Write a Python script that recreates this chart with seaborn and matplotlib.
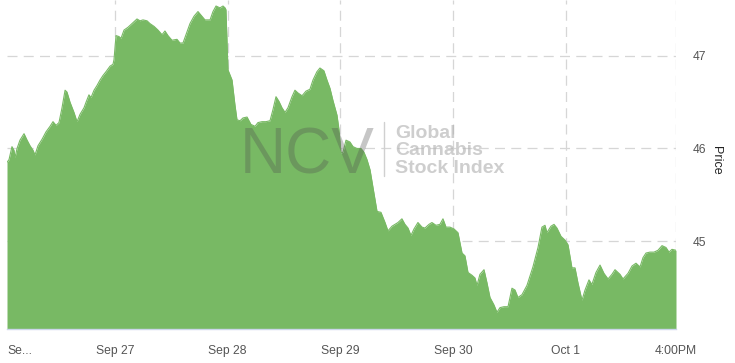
import matplotlib
matplotlib.use("Agg")
import matplotlib.pyplot as plt
import seaborn as sns
import pandas as pd

# ─── DATA (trading-session time in days, Sep 26 = 0) ──────────────────────────
session = [
    0.042, 0.060, 0.086, 0.104, 0.113, 0.131, 0.157, 0.193, 0.220, 0.246,
    0.273, 0.290, 0.317, 0.353, 0.388, 0.424, 0.450, 0.477, 0.503, 0.530,
    0.557, 0.574, 0.601, 0.636, 0.663, 0.690, 0.725, 0.743, 0.769, 0.787,
    0.814, 0.840, 0.867, 0.894, 0.920, 0.956, 0.982, 0.991, 1.009, 1.035,
    1.053, 1.080, 1.115, 1.151, 1.195, 1.222, 1.248, 1.284, 1.310, 1.346,
    1.381, 1.417, 1.443, 1.470, 1.505, 1.550, 1.576, 1.603, 1.630, 1.665,
    1.701, 1.736, 1.763, 1.798, 1.843, 1.869, 1.896, 1.931, 1.958, 1.976,
    1.984, 2.002, 2.038, 2.064, 2.082, 2.109, 2.135, 2.171, 2.206, 2.242,
    2.268, 2.304, 2.339, 2.375, 2.401, 2.428, 2.454, 2.481, 2.508, 2.534,
    2.570, 2.596, 2.623, 2.659, 2.694, 2.729, 2.756, 2.791, 2.818, 2.853,
    2.880, 2.907, 2.933, 2.969, 2.987, 3.004, 3.022, 3.049, 3.084, 3.111,
    3.146, 3.182, 3.208, 3.235, 3.262, 3.288, 3.324, 3.359, 3.395, 3.421,
    3.457, 3.483, 3.510, 3.545, 3.572, 3.599, 3.625, 3.652, 3.687, 3.723,
    3.749, 3.785, 3.811, 3.847, 3.882, 3.909, 3.936, 3.971, 4.007, 4.042,
    4.078, 4.104, 4.131, 4.166, 4.193, 4.211, 4.237, 4.273, 4.299, 4.326,
    4.361, 4.388, 4.415, 4.450, 4.486, 4.521, 4.548, 4.574, 4.610, 4.654,
    4.707, 4.752, 4.787, 4.814, 4.831, 4.867, 4.894, 4.920, 4.956, 4.991,
    5.018, 5.053, 5.080, 5.106, 5.142, 5.169, 5.204, 5.230, 5.266, 5.302,
    5.337, 5.373, 5.408, 5.435, 5.479, 5.506, 5.550, 5.586, 5.621, 5.657,
    5.683, 5.710, 5.745, 5.781, 5.816, 5.852, 5.887, 5.914, 5.940, 5.976,
]
price = [
    45.85, 45.88, 46.02, 45.98, 45.90, 46.00, 46.09, 46.16, 46.09, 46.03,
    45.98, 45.93, 46.03, 46.10, 46.18, 46.24, 46.29, 46.25, 46.28, 46.44,
    46.63, 46.61, 46.50, 46.39, 46.29, 46.37, 46.44, 46.50, 46.58, 46.55,
    46.63, 46.68, 46.74, 46.79, 46.83, 46.89, 46.91, 46.96, 47.22, 47.21,
    47.19, 47.28, 47.31, 47.35, 47.40, 47.38, 47.39, 47.38, 47.35, 47.32,
    47.28, 47.23, 47.27, 47.22, 47.17, 47.18, 47.14, 47.14, 47.23, 47.35,
    47.43, 47.48, 47.44, 47.39, 47.39, 47.48, 47.54, 47.52, 47.54, 47.52,
    47.50, 46.85, 46.74, 46.47, 46.31, 46.30, 46.33, 46.34, 46.26, 46.24,
    46.28, 46.29, 46.29, 46.30, 46.42, 46.56, 46.51, 46.44, 46.39, 46.44,
    46.56, 46.63, 46.60, 46.57, 46.62, 46.64, 46.74, 46.83, 46.87, 46.84,
    46.74, 46.65, 46.52, 46.36, 46.20, 45.95, 45.96, 46.09, 46.07, 46.02,
    46.00, 46.00, 45.96, 45.88, 45.77, 45.58, 45.32, 45.31, 45.20, 45.11,
    45.16, 45.18, 45.20, 45.24, 45.18, 45.14, 45.06, 45.13, 45.20, 45.15,
    45.14, 45.18, 45.20, 45.17, 45.18, 45.24, 45.15, 45.15, 45.13, 45.09,
    44.87, 44.84, 44.66, 44.63, 44.60, 44.52, 44.64, 44.69, 44.55, 44.39,
    44.31, 44.23, 44.28, 44.29, 44.29, 44.49, 44.47, 44.39, 44.42, 44.52,
    44.72, 44.93, 45.15, 45.17, 45.09, 45.16, 45.18, 45.14, 45.05, 45.01,
    44.96, 44.71, 44.71, 44.55, 44.36, 44.47, 44.58, 44.53, 44.66, 44.74,
    44.65, 44.59, 44.64, 44.69, 44.64, 44.59, 44.65, 44.73, 44.76, 44.72,
    44.82, 44.87, 44.88, 44.88, 44.90, 44.95, 44.93, 44.88, 44.91, 44.90,
]
tick_pos    = [0.042, 1, 2, 3, 4, 5, 5.976]
tick_labels = ["Se...", "Sep 27", "Sep 28", "Sep 29", "Sep 30", "Oct 1", "4:00PM"]
price_ticks = [45, 46, 47]

df = pd.DataFrame({"session": session, "price": price})

# ─── STYLE ────────────────────────────────────────────────────────────────────
sns.set_theme(style="white")
plt.rcParams["font.family"] = ["Liberation Sans", "DejaVu Sans"]
GREEN = "#78b964"
GRID  = "#d6d6d6"
AXIS  = "#ccd6eb"

fig = plt.figure(figsize=(7.35, 3.63), dpi=100)
ax = fig.add_axes([7 / 735, 34 / 363, 669 / 735, 329 / 363])

ax.fill_between(df["session"], df["price"], 44.0, color=GREEN, linewidth=0, zorder=2)
sns.lineplot(data=df, x="session", y="price", color=GREEN, linewidth=0.8, ax=ax, zorder=3)

ax.set_xlim(0.042, 5.976)
ax.set_ylim(44.049, 47.605)

ax.set_xticks(tick_pos)
ax.set_xticklabels(tick_labels)
ax.get_xticklabels()[0].set_ha("left")
ax.set_yticks(price_ticks)
ax.set_yticklabels([str(v) for v in price_ticks])

ax.yaxis.tick_right()
ax.yaxis.set_label_position("right")
ax.set_ylabel("Price", rotation=270, fontsize=9, color="#222222")
ax.yaxis.set_label_coords(1.069, 0.514)
ax.set_xlabel("")

ax.tick_params(axis="x", length=5, width=1, color=AXIS, pad=6.5,
               labelsize=8.7, labelcolor="#555555")
ax.tick_params(axis="y", length=0, pad=12, labelsize=8.7, labelcolor="#555555")
for lab in ax.get_yticklabels():
    lab.set_ha("left")

ax.grid(True, linestyle=(0, (8, 5)), color=GRID, linewidth=0.9)
ax.set_axisbelow(True)
ax.get_xgridlines()[0].set_visible(False)

for side in ["top", "left", "right"]:
    ax.spines[side].set_visible(False)
ax.spines["bottom"].set_color(AXIS)
ax.spines["bottom"].set_linewidth(1)

# ─── WATERMARK ────────────────────────────────────────────────────────────────
fig.text(240 / 735, 1 - 173 / 363, "NCV", fontsize=46, color="#505050",
         alpha=0.32, ha="left", va="baseline", zorder=10)
fig.add_artist(plt.Line2D([384 / 735, 384 / 735], [1 - 122 / 363, 1 - 176 / 363],
                          color="#d0d0d0", linewidth=1, zorder=10))
for i, line in enumerate(["Global", "Cannabis", "Stock Index"]):
    fig.text(395 / 735, 1 - (138 + 17.5 * i) / 363, line, fontsize=14,
             fontweight="bold", color="#b4b4b4", alpha=0.65,
             ha="left", va="baseline", zorder=10)

plt.savefig("out.png", dpi=100)
plt.close()
